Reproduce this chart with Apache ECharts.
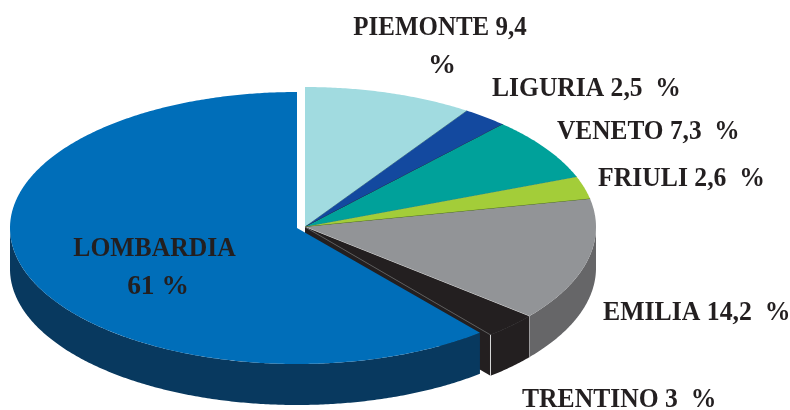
<!DOCTYPE html>
<html>
<head>
<meta charset="utf-8">
<title>Ripartizione regionale</title>
<style>
  html, body { margin: 0; padding: 0; background: #fff; }
  #main { width: 790px; height: 410px; }
</style>
<script src="https://cdn.jsdelivr.net/npm/echarts@6/dist/echarts.min.js"></script>
</head>
<body>
<div id="main"></div>
<script>
// data, clockwise from 12 o'clock
var regions = ['PIEMONTE', 'LIGURIA', 'VENETO', 'FRIULI', 'EMILIA', 'TRENTINO', 'LOMBARDIA'];
var shares = [9.4, 2.5, 7.3, 2.6, 14.2, 3, 61];
var shareLabels = ['9,4', '2,5', '7,3', '2,6', '14,2', '3', '61'];

// colours
var topColors = ['#a1dbe0', '#13499f', '#00a19a', '#a3cd39', '#929497', '#231f20', '#006eb9'];
var wallColors = ['#6b9297', '#0c2f66', '#006e69', '#5f7a1e', '#666668', '#231f20', '#08395f'];
var edgeColors = ['#5f8f8c', '#1a1a40', '#3d8a7a', '#4c6b1c', '#e4e4e4', '#5c5c5c', '#006eb9'];

// the pie, the pulled out slice is drawn a bit smaller
var pie = { cx: 305, cy: 227, rx: 291, ry: 140 };
var pulled = { cx: 297, cy: 228, rx: 287, ry: 136 };
var pulledRegion = 'LOMBARDIA';
var depth = 41;

var total = shares.reduce(function (a, b) { return a + b; }, 0);

function point(p, deg, dy) {
  var r = deg * Math.PI / 180;
  return [p.cx + p.rx * Math.sin(r), p.cy - p.ry * Math.cos(r) + (dy || 0)];
}

function arc(p, from, to, dy) {
  var pts = [];
  var n = Math.max(2, Math.ceil((to - from) * 2));
  for (var i = 0; i <= n; i++) {
    pts.push(point(p, from + (to - from) * i / n, dy));
  }
  return pts;
}

function renderSlice(params, api) {
  var i = params.dataIndex;
  var before = 0;
  for (var k = 0; k < i; k++) before += shares[k];
  var a0 = before / total * 360;
  var a1 = a0 + api.value(0) / total * 360;
  var p = regions[i] === pulledRegion ? pulled : pie;
  var apex = [p.cx, p.cy];
  var children = [];

  // flat face left open where the end of the slice shows
  if (a1 > 90 && a1 < 180) {
    var c = point(p, a1);
    children.push({
      type: 'polygon',
      shape: { points: [apex, c, [c[0], c[1] + depth], [apex[0], apex[1] + depth]] },
      style: { fill: wallColors[i] }
    });
  }
  // outer wall, only the front half can be seen
  var w0 = Math.max(a0, 90);
  var w1 = Math.min(a1, 270);
  if (w1 > w0) {
    var top = arc(p, w0, w1);
    var bottom = arc(p, w0, w1, depth).reverse();
    children.push({
      type: 'polygon',
      shape: { points: top.concat(bottom) },
      style: { fill: wallColors[i] }
    });
  }
  // top of the slice
  children.push({
    type: 'polygon',
    shape: { points: [apex].concat(arc(p, a0, a1)) },
    style: { fill: topColors[i] }
  });
  // thin edge on the closing side, the print has these
  if (a1 < 360) {
    var e = point(p, a1);
    children.push({
      type: 'line',
      shape: { x1: apex[0], y1: apex[1], x2: e[0], y2: e[1] },
      style: { stroke: edgeColors[i], lineWidth: 1 }
    });
    if (a1 > 90 && a1 < 180) {
      children.push({
        type: 'line',
        shape: { x1: e[0], y1: e[1], x2: e[0], y2: e[1] + depth },
        style: { stroke: '#d8d8d8', lineWidth: 1 }
      });
    }
  }
  return { type: 'group', children: children };
}

// label lines, y is the bottom of the text box, sx squeezes the tight print
var labelFont = 'bold 28px "Liberation Serif", "Times New Roman", serif';
var labelLines = [
  { text: regions[0] + ' ' + shareLabels[0], x: 440, y: 42, sx: 0.892, align: 'center' },
  { text: '%', x: 442, y: 80, sx: 1, align: 'center' },
  { text: regions[1] + ' ' + shareLabels[1] + '  %', x: 492, y: 103, sx: 0.913, align: 'left' },
  { text: regions[2] + ' ' + shareLabels[2] + '  %', x: 557, y: 146, sx: 0.905, align: 'left' },
  { text: regions[3] + ' ' + shareLabels[3] + '  %', x: 598, y: 193, sx: 0.917, align: 'left' },
  { text: regions[4] + ' ' + shareLabels[4] + '  %', x: 603, y: 327, sx: 0.92, align: 'left' },
  { text: regions[5] + ' ' + shareLabels[5] + '  %', x: 522, y: 414, sx: 0.915, align: 'left' },
  { text: regions[6], x: 154.5, y: 263, sx: 0.916, align: 'center' },
  { text: shareLabels[6] + ' %', x: 158, y: 301, sx: 0.98, align: 'center' }
];

var myChart = echarts.init(document.getElementById('main'));

var option = {
  animation: false,
  backgroundColor: '#fff',
  series: [{
    type: 'custom',
    coordinateSystem: 'none',
    renderItem: renderSlice,
    silent: true,
    data: shares.map(function (v, i) { return { name: regions[i], value: [v] }; })
  }],
  graphic: {
    elements: labelLines.map(function (l) {
      return {
        type: 'text',
        x: l.x,
        y: l.y,
        scaleX: l.sx,
        z: 100,
        silent: true,
        style: {
          text: l.text,
          font: labelFont,
          fill: '#231f20',
          textAlign: l.align,
          textVerticalAlign: 'bottom'
        }
      };
    })
  }
};

myChart.setOption(option);
</script>
</body>
</html>
